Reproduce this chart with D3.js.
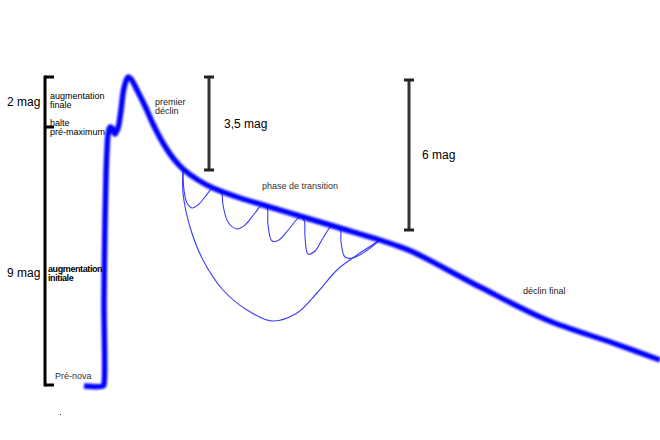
<!DOCTYPE html>
<html>
<head>
<meta charset="utf-8">
<script src="https://cdn.jsdelivr.net/npm/d3@7"></script>
<style>
  body { margin: 0; background: #fff; }
  text { font-family: Arial, "Liberation Sans", sans-serif; }
</style>
</head>
<body>
<div id="nova"></div>
<script>
var width = 660;
var height = 440;

// schematic units (time, brightness)
var lightCurve = [[84,386],[103,386],[104,384],[104,300],[105,220],[106,175],[107,150],[108,135],[110,127],[112,128],[115,134],[118,128],[121,110],[124,88],[128,77],[131,79],[137,90],[145,106],[153,124],[163,143],[173,158],[183,169],[198,180],[213,188],[240,198],[263,205],[303,217],[340,228],[380,240],[395,245],[413,252],[480,287],[547,320],[613,343],[660,360]];

var oscillations = [[183,170],[184,190],[187,203],[192,208],[198,205],[205,197],[213,188],[221,191],[223,205],[228,222],[237,229],[245,225],[255,213],[263,204],[267,207],[268,225],[272,241],[279,240],[289,229],[300,217],[304,220],[305,237],[308,254],[315,251],[323,238],[332,226],[340,229],[341,242],[345,257],[353,258],[366,251],[380,240]];

var dipLoop = [[183,170],[183,193],[190,227],[203,260],[223,290],[247,310],[272,321],[297,313],[317,293],[337,270],[357,255],[380,240]];

// bracket on the left: top, halt, bottom
var bracketMarks = [77, 127, 385];
var bracketX = 45;

var amplitudeBars = [
  { label: "3,5 mag", x: 209, top: 77, bottom: 170 },
  { label: "6 mag", x: 409, top: 80, bottom: 230 }
];

var labels = [
  { text: ["2 mag"], x: 7, y: 106, size: 12, color: "#000" },
  { text: ["9 mag"], x: 7, y: 277, size: 12, color: "#000" },
  { text: ["augmentation", "finale"], x: 50, y: 99, size: 9, color: "#000" },
  { text: ["halte", "pré-maximum"], x: 50, y: 126, size: 9, color: "#000" },
  { text: ["augmentation", "initiale"], x: 48, y: 272, size: 9, color: "#000", bold: true },
  { text: ["Pré-nova"], x: 55, y: 379, size: 9, color: "#333" },
  { text: ["premier", "déclin"], x: 155, y: 105, size: 9, color: "#222" },
  { text: ["3,5 mag"], x: 224, y: 128, size: 12, color: "#000" },
  { text: ["6 mag"], x: 422, y: 159, size: 12, color: "#000" },
  { text: ["phase de transition"], x: 262, y: 189, size: 9, color: "#333" },
  { text: ["déclin final"], x: 523, y: 294, size: 9, color: "#222" }
];

// stray dot in the original drawing
var strayDot = [60, 414];

var x = d3.scaleLinear().domain([0, 660]).range([0, width]);
var y = d3.scaleLinear().domain([0, 440]).range([0, height]);

var svg = d3.select("#nova")
    .append("svg")
    .attr("width", width)
    .attr("height", height);

svg.append("defs").append("filter")
    .attr("id", "soft")
    .attr("x", "-5%").attr("y", "-5%")
    .attr("width", "110%").attr("height", "110%")
    .append("feGaussianBlur")
    .attr("stdDeviation", 0.9);

var line = d3.line()
    .x(d => x(d[0]))
    .y(d => y(d[1]))
    .curve(d3.curveCatmullRom.alpha(0.5));

// thin dip curves
svg.append("path")
    .datum(dipLoop)
    .attr("d", line)
    .attr("fill", "none")
    .attr("stroke", "#3a3aff")
    .attr("stroke-width", 1.1);

svg.append("path")
    .datum(oscillations)
    .attr("d", line)
    .attr("fill", "none")
    .attr("stroke", "#3a3aff")
    .attr("stroke-width", 1.1);

// main light curve
svg.append("path")
    .datum(lightCurve)
    .attr("d", line)
    .attr("fill", "none")
    .attr("stroke", "#0000ff")
    .attr("stroke-width", 5.5)
    .attr("stroke-linejoin", "round")
    .attr("filter", "url(#soft)");

// left bracket
svg.append("line")
    .attr("x1", x(bracketX)).attr("x2", x(bracketX))
    .attr("y1", y(bracketMarks[0]) - 1.5).attr("y2", y(bracketMarks[2]) + 1.5)
    .attr("stroke", "#000").attr("stroke-width", 3);

svg.selectAll(".btick")
    .data(bracketMarks)
    .enter()
    .append("line")
    .attr("x1", x(bracketX)).attr("x2", x(bracketX + 9))
    .attr("y1", d => y(d)).attr("y2", d => y(d))
    .attr("stroke", "#000").attr("stroke-width", 3);

// amplitude bars
var bars = svg.selectAll(".amp")
    .data(amplitudeBars)
    .enter()
    .append("g");

bars.append("line")
    .attr("x1", d => x(d.x)).attr("x2", d => x(d.x))
    .attr("y1", d => y(d.top)).attr("y2", d => y(d.bottom))
    .attr("stroke", "#333").attr("stroke-width", 3);

bars.selectAll(".cap")
    .data(d => [[d.x, d.top], [d.x, d.bottom]])
    .enter()
    .append("line")
    .attr("x1", d => x(d[0] - 5)).attr("x2", d => x(d[0] + 5))
    .attr("y1", d => y(d[1])).attr("y2", d => y(d[1]))
    .attr("stroke", "#222").attr("stroke-width", 3);

svg.append("rect")
    .attr("x", x(strayDot[0]))
    .attr("y", y(strayDot[1]))
    .attr("width", 1).attr("height", 1)
    .attr("fill", "#333");

// labels
var txt = svg.selectAll(".lbl")
    .data(labels)
    .enter()
    .append("text")
    .attr("x", d => x(d.x))
    .attr("y", d => y(d.y))
    .attr("font-size", d => d.size)
    .attr("font-weight", d => d.bold ? "bold" : "normal")
    .attr("letter-spacing", d => d.bold ? "-0.4" : "0")
    .attr("fill", d => d.color);

txt.selectAll("tspan")
    .data(d => d.text.map(t => ({ t: t, x: d.x, size: d.size })))
    .enter()
    .append("tspan")
    .attr("x", d => x(d.x))
    .attr("dy", (d, i) => i === 0 ? 0 : d.size)
    .text(d => d.t);
</script>
</body>
</html>
